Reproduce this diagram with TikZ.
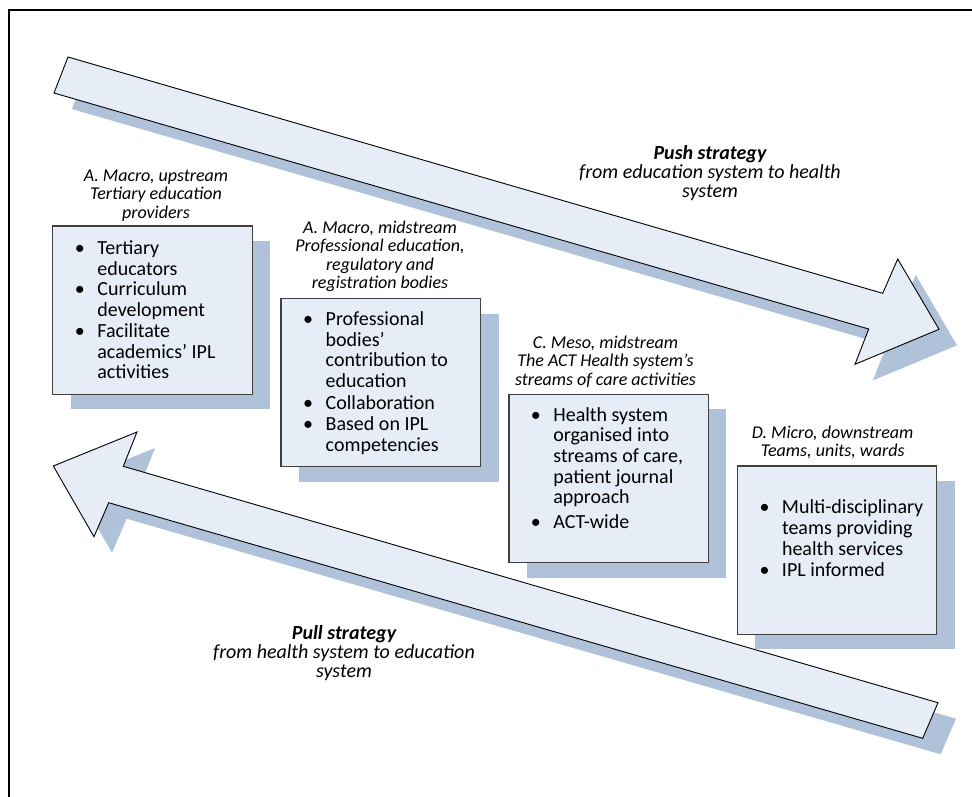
\documentclass[tikz,border=0pt]{standalone}
\usepackage{fontspec}
\setmainfont{Carlito}
\definecolor{arrowfill}{HTML}{E6EDF7}
\definecolor{shadowblue}{HTML}{AFC2DA}
\definecolor{boxline}{HTML}{404040}
\newcommand\bl{\makebox[35pt][c]{\textbullet}}
\begin{document}
\begin{tikzpicture}[x=1pt,y=-1pt,
  shadowshape/.style={fill=shadowblue, draw=none},
  arrowshape/.style={fill=arrowfill, draw=black, line width=0.9pt, line join=miter},
  levelbox/.style={fill=arrowfill, draw=boxline, line width=1.3pt, minimum width=199.6pt, minimum height=168.2pt, inner sep=0pt},
  hdr/.style={anchor=base, inner sep=0pt, font=\fontsize{18}{18.5}\selectfont\itshape},
  strat/.style={anchor=base, inner sep=0pt, font=\fontsize{20}{19.2}\selectfont\itshape},
  itemlist/.style={anchor=base west, inner sep=0pt, font=\fontsize{20}{20.7}\selectfont},
]
\useasboundingbox (0,0) rectangle (972,796);
\fill[white] (0,0) rectangle (972,796);

% frame
\draw[line width=2pt, line join=miter] (8.7,800) -- (8.7,10) -- (976,10);

% push arrow
\path[shadowshape, shift={(18,16)}] (68,57) -- (882.7,293.3) -- (897.7,259) -- (939,329.3) -- (855,364.3) -- (868.7,329) -- (54,93) -- cycle;
\path[arrowshape] (68,57) -- (882.7,293.3) -- (897.7,259) -- (939,329.3) -- (855,364.3) -- (868.7,329) -- (54,93) -- cycle;

% pull arrow
\path[shadowshape, shift={(18,16)}] (53.3,466) -- (137,432) -- (123.3,466.3) -- (938,702.7) -- (922.7,738.3) -- (108.7,502.7) -- (94,536.7) -- cycle;
\path[arrowshape] (53.3,466) -- (137,432) -- (123.3,466.3) -- (938,702.7) -- (922.7,738.3) -- (108.7,502.7) -- (94,536.7) -- cycle;

% box shadows
\path[shadowshape] (70.7,241) rectangle (270.3,409.2);
\path[shadowshape] (299,313.7) rectangle (498.6,481.9);
\path[shadowshape] (526.7,409.3) rectangle (726.3,577.5);
\path[shadowshape] (755.3,481) rectangle (954.9,649.2);

% boxes
\node[levelbox] (boxA1) at (152.5,310.1) {};
\node[levelbox] (boxA2) at (380.7,382.7) {};
\node[levelbox] (boxC) at (608.7,478.3) {};
\node[levelbox] (boxD) at (837,550.1) {};

% headers
\node[hdr] (hA1) at (156,181) {\begin{tabular}[t]{@{}c@{}}A. Macro, upstream\\Tertiary education\\providers\end{tabular}};
\node[hdr] (hA2) at (380,233.2) {\begin{tabular}[t]{@{}c@{}}A. Macro, midstream\\Professional education,\\regulatory and\\registration bodies\end{tabular}};
\node[hdr] (hC) at (605.5,348.3) {\begin{tabular}[t]{@{}c@{}}C. Meso, midstream\\The ACT Health system’s\\streams of care activities\end{tabular}};
\node[hdr] (hD) at (832.7,438.3) {\begin{tabular}[t]{@{}c@{}}D. Micro, downstream\\Teams, units, wards\end{tabular}};

% strategies
\node[strat] (push) at (710,159) {\begin{tabular}[t]{@{}c@{}}\textbf{Push strategy}\\from education system to health\\system\end{tabular}};
\node[strat] (pull) at (344,639) {\begin{tabular}[t]{@{}c@{}}\textbf{Pull strategy}\\from health system to education\\system\end{tabular}};

% lists
\node[itemlist] (lA1) at (62.2,254.5) {\begin{tabular}[t]{@{}l@{}l@{}}
\bl & Tertiary\\ & educators\\ \bl & Curriculum\\ & development\\ \bl & Facilitate\\ & academics’ IPL\\ & activities\end{tabular}};
\node[itemlist] (lA2) at (290.5,325.5) {\begin{tabular}[t]{@{}l@{}l@{}}
\bl & Professional\\ & bodies’\\ & contribution to\\ & education\\[1.5pt] \bl & Collaboration\\ \bl & Based on IPL\\ & competencies\end{tabular}};
\node[itemlist] (lC) at (518.2,421) {\begin{tabular}[t]{@{}l@{}l@{}}
\bl & Health system\\ & organised into\\ & streams of care,\\ & patient journal\\ & approach\\[3.5pt] \bl & ACT-wide\end{tabular}};
\node[itemlist] (lD) at (746.8,513.7) {\begin{tabular}[t]{@{}l@{}l@{}}
\bl & Multi-disciplinary\\ & teams providing\\ & health services\\[1pt] \bl & IPL informed\end{tabular}};
\end{tikzpicture}
\end{document}
